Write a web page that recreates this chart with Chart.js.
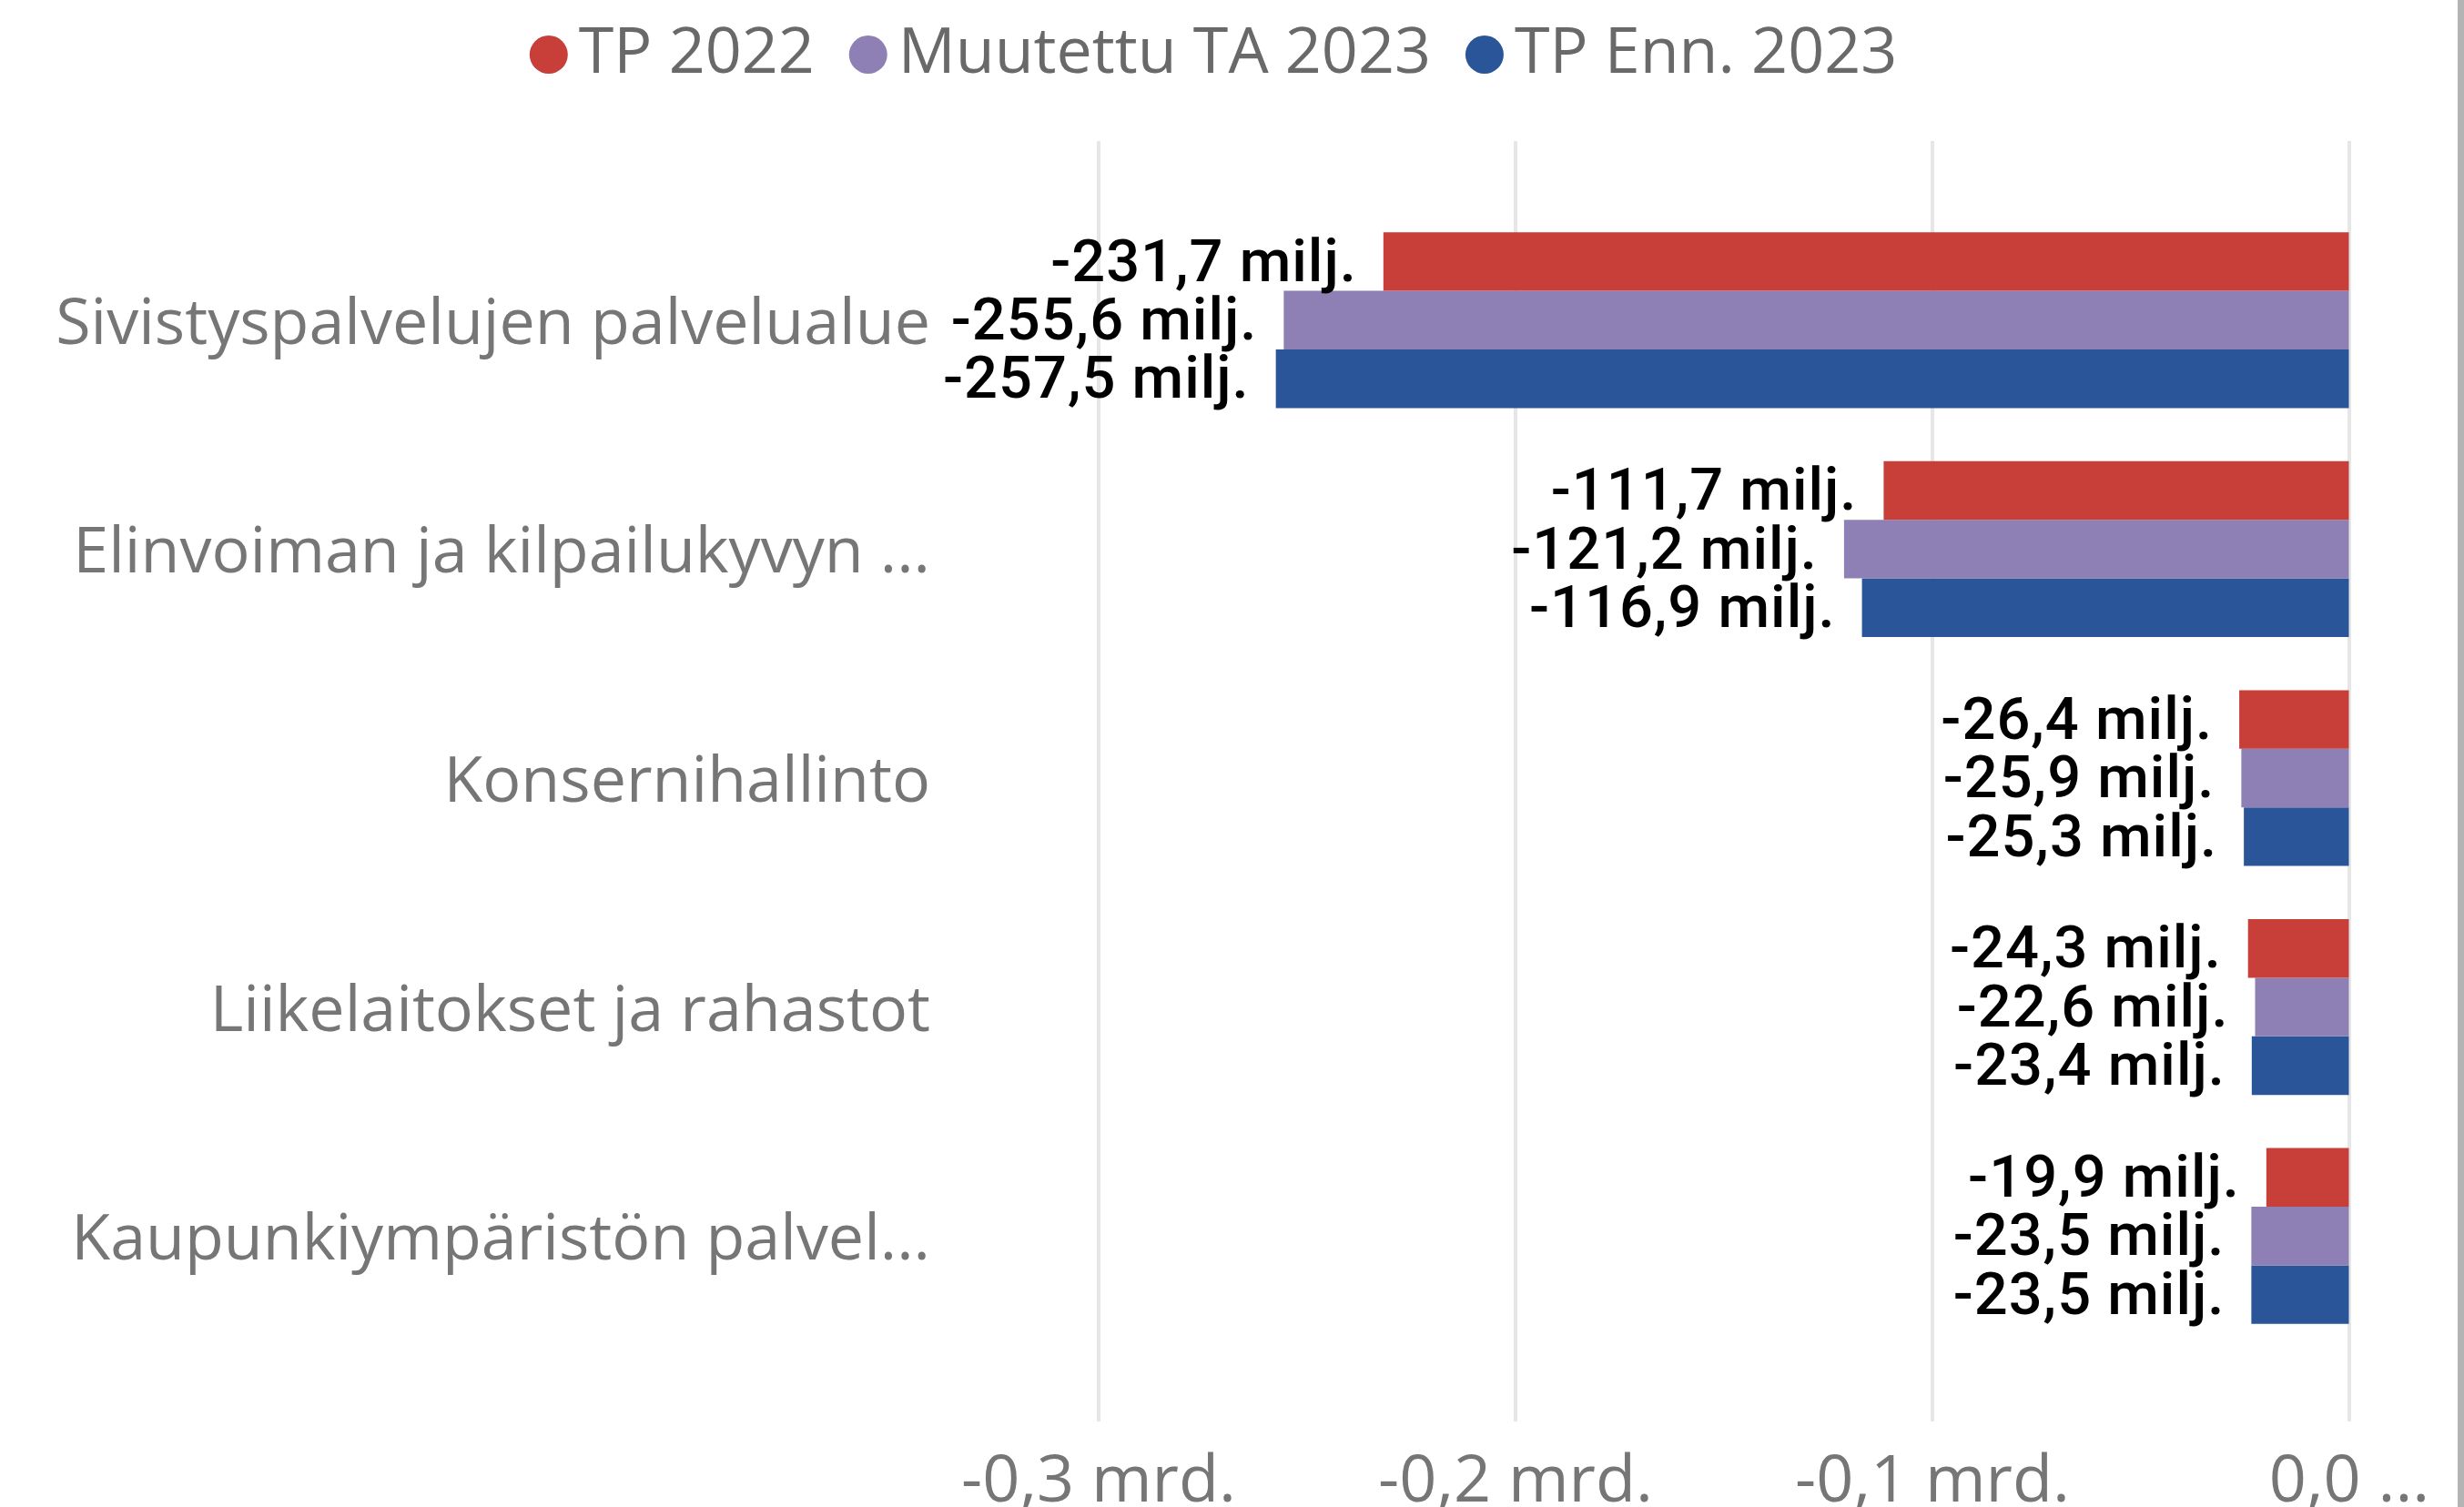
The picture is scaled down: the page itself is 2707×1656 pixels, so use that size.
<!DOCTYPE html>
<html lang="fi">
<head>
<meta charset="utf-8">
<title>Toimintakate palvelualueittain</title>
<script src="https://cdn.jsdelivr.net/npm/chart.js@4.4.1/dist/chart.umd.min.js"></script>
<style>
  html, body { margin: 0; padding: 0; background: #fff; }
  #wrap { width: 2707px; height: 1656px; box-sizing: border-box; border-right: 7px solid #b4b4b4; }
</style>
</head>
<body>
<div id="wrap"><canvas id="chart"></canvas></div>
<script>
// category names as shown (long ones are cut in the original)
const categories = [
    "Sivistyspalvelujen palvelualue",
    "Elinvoiman ja kilpailukyvyn ...",
    "Konsernihallinto",
    "Liikelaitokset ja rahastot",
    "Kaupunkiympäristön palvel..."
];

// values in milj. euros
const tp2022 = [-231.7, -111.7, -26.4, -24.3, -19.9];
const muutettuTa2023 = [-255.6, -121.2, -25.9, -22.6, -23.5];
const tpEnn2023 = [-257.5, -116.9, -25.3, -23.4, -23.5];

const xTickLabels = ["-0,3 mrd.", "-0,2 mrd.", "-0,1 mrd.", "0,0 ..."];

const seriesNames = ["TP 2022", "Muutettu TA 2023", "TP Enn. 2023"];
const seriesColors = ["#c83e39", "#8e80b4", "#2a5598"];

function fmtMilj(v) {
    return v.toFixed(1).replace(".", ",") + " milj.";
}

// gridlines in the original run a bit above and below the bars
const longGrid = {
    id: "longGrid",
    beforeDatasetsDraw(chart) {
        const ctx = chart.ctx;
        const xs = chart.scales.x;
        const area = chart.chartArea;
        ctx.save();
        ctx.strokeStyle = "#e6e6e6";
        ctx.lineWidth = 4;
        xs.ticks.forEach(t => {
            const x = Math.round(xs.getPixelForValue(t.value));
            ctx.beginPath();
            ctx.moveTo(x, area.top - 71);
            ctx.lineTo(x, area.bottom + 78);
            ctx.stroke();
        });
        ctx.restore();
    }
};

// value labels left of each bar end
const barLabels = {
    id: "barLabels",
    afterDatasetsDraw(chart) {
        const ctx = chart.ctx;
        ctx.save();
        ctx.font = '500 65px Roboto';
        ctx.letterSpacing = "1px";
        ctx.fillStyle = "#000";
        ctx.textAlign = "right";
        ctx.textBaseline = "middle";
        chart.data.datasets.forEach((ds, i) => {
            chart.getDatasetMeta(i).data.forEach((bar, j) => {
                const left = Math.min(bar.x, bar.base);
                ctx.fillText(fmtMilj(ds.data[j]), left - 29, bar.y + 5);
            });
        });
        ctx.restore();
    }
};

// legend with round markers at the top
const dotLegend = {
    id: "dotLegend",
    afterDraw(chart) {
        const ctx = chart.ctx;
        ctx.save();
        ctx.font = '70px "Open Sans"';
        const r = 21, gapText = 12, gapItem = 38, y = 60;
        const items = chart.data.datasets.map(ds => ({
            text: ds.label,
            color: ds.backgroundColor,
            w: ctx.measureText(ds.label).width
        }));
        const total = items.reduce((s, it) => s + 2 * r + gapText + it.w, 0) + gapItem * (items.length - 1);
        let x = chart.width / 2 - 17 - total / 2;
        ctx.textAlign = "left";
        ctx.textBaseline = "middle";
        items.forEach(it => {
            ctx.fillStyle = it.color;
            ctx.beginPath();
            ctx.arc(x + r, y, r, 0, Math.PI * 2);
            ctx.fill();
            x += 2 * r + gapText;
            ctx.fillStyle = "#696969";
            ctx.fillText(it.text, x, y);
            x += it.w + gapItem;
        });
        ctx.restore();
    }
};

const ctx = document.getElementById("chart").getContext("2d");

new Chart(ctx, {
    type: "bar",
    data: {
        labels: categories,
        datasets: [
            { label: seriesNames[0], data: tp2022, backgroundColor: seriesColors[0] },
            { label: seriesNames[1], data: muutettuTa2023, backgroundColor: seriesColors[1] },
            { label: seriesNames[2], data: tpEnn2023, backgroundColor: seriesColors[2] }
        ]
    },
    options: {
        indexAxis: "y",
        responsive: true,
        maintainAspectRatio: false,
        animation: false,
        layout: { padding: { top: 226, right: 119, bottom: 0, left: 0 } },
        datasets: {
            bar: { barPercentage: 1, categoryPercentage: 0.768, borderWidth: 0 }
        },
        plugins: {
            legend: { display: false },
            tooltip: { enabled: false }
        },
        scales: {
            x: {
                min: -300,
                max: 0,
                // invisible tick marks give the gap under the plot
                grid: { color: "transparent", drawOnChartArea: false, tickLength: 102 },
                border: { display: false },
                ticks: {
                    stepSize: 100,
                    padding: 0,
                    color: "#767676",
                    font: { family: "Open Sans", size: 72 },
                    maxRotation: 0,
                    callback: (v, i) => xTickLabels[i]
                },
                afterFit: s => { s.height = 172; }
            },
            y: {
                grid: { color: "transparent", drawOnChartArea: false, tickLength: 185 },
                border: { display: false },
                ticks: {
                    padding: 0,
                    labelOffset: 6,
                    color: "#767676",
                    font: { family: "Open Sans", size: 70 }
                },
                afterFit: s => { s.width = 1207; }
            }
        }
    },
    plugins: [longGrid, barLabels, dotLegend]
});
</script>
</body>
</html>
